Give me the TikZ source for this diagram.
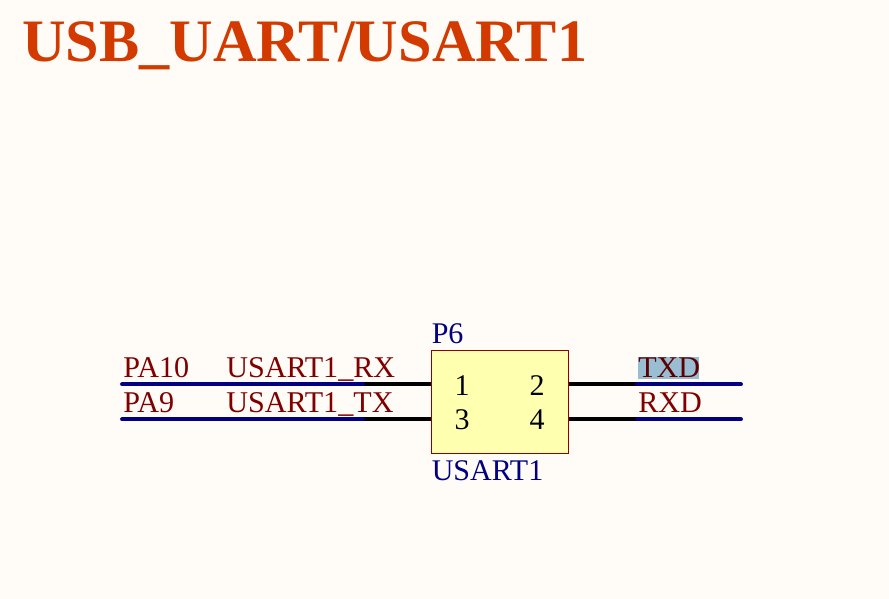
\documentclass[tikz,border=0pt]{standalone}
\usepackage{fontspec}
\usepackage{xcolor}
\usepackage{tikz}
\usetikzlibrary{positioning, calc}
\setmainfont{Liberation Serif}
\definecolor{SheetBg}{HTML}{FFFCF8}
\definecolor{TitleRed}{HTML}{D33A00}
\definecolor{NetRed}{HTML}{800000}
\definecolor{WireBlue}{HTML}{000080}
\definecolor{PartFill}{HTML}{FFFFB0}
\definecolor{MarkBlue}{HTML}{99BDD3}
\tikzset{
    pinwire/.style={line width=2.9pt, black},
    netwire/.style={line width=2.9pt, WireBlue, line cap=round},
    netlabel/.style={anchor=base west, inner sep=0pt, text=NetRed, font=\fontsize{22.6}{22.6}\selectfont},
    partlabel/.style={anchor=base west, inner sep=0pt, text=WireBlue, font=\fontsize{22.5}{22.5}\selectfont},
    pinnum/.style={anchor=base, inner sep=0pt, text=black, font=\fontsize{22.5}{22.5}\selectfont},
}

\begin{document}
\begin{tikzpicture}[x=0.75pt, y=-0.75pt]
    % 图纸背景
    \fill[SheetBg] (0,0) rectangle (889,599);
    \useasboundingbox (0,0) rectangle (889,599);
    \node[anchor=base west, inner sep=0pt, text=TitleRed, font=\fontsize{45.2}{45.2}\selectfont\bfseries] (title) at (22,62) {USB\_UART/USART1};

    % 连接器 P6
    \node[draw=NetRed!85!red, fill=PartFill, line width=0.75pt, minimum width=102.5pt, minimum height=77pt, inner sep=0pt] (p6) at (500,402.3) {};
    \node[partlabel] (p6name) at (431.5,343) {P6};
    \node[partlabel] (p6value) at (431.5,480) {USART1};
    \node[pinnum] (pin1) at (462,395) {1};
    \node[pinnum] (pin2) at (537,395) {2};
    \node[pinnum] (pin3) at (462,429) {3};
    \node[pinnum] (pin4) at (537,429) {4};

    % 左侧网络
    \coordinate (rxend) at (122,384.3);
    \coordinate (rxjoin) at (363,384.3);
    \coordinate (txend) at (122,419.3);
    \coordinate (txjoin) at (363,419.3);
    \draw[pinwire] (p6.west |- rxjoin) -- (rxjoin);
    \draw[pinwire] (p6.west |- txjoin) -- (txjoin);
    \draw[netwire] (rxend) -- (rxjoin);
    \draw[netwire] (txend) -- (txjoin);

    % 右侧网络
    \coordinate (txdjoin) at (637,384.3);
    \coordinate (txdend) at (741,384.3);
    \coordinate (rxdjoin) at (637,419.3);
    \coordinate (rxdend) at (741,419.3);
    \draw[pinwire] (p6.east |- txdjoin) -- (txdjoin);
    \draw[pinwire] (p6.east |- rxdjoin) -- (rxdjoin);
    \draw[netwire] (txdjoin) -- (txdend);
    \draw[netwire] (rxdjoin) -- (rxdend);

    % 网络标号
    \node[netlabel] (pa10) at (123,377) {PA10};
    \node[netlabel] (rxnet) at (226,377) {USART1\_RX};
    \node[netlabel] (pa9) at (123,412) {PA9};
    \node[netlabel] (txnet) at (226,412) {USART1\_TX};
    \fill[MarkBlue] (638,357) rectangle (699,379);
    \node[netlabel, text=NetRed!70!black] (txd) at (638,377) {TXD};
    \node[netlabel] (rxd) at (638,412) {RXD};
\end{tikzpicture}
\end{document}
